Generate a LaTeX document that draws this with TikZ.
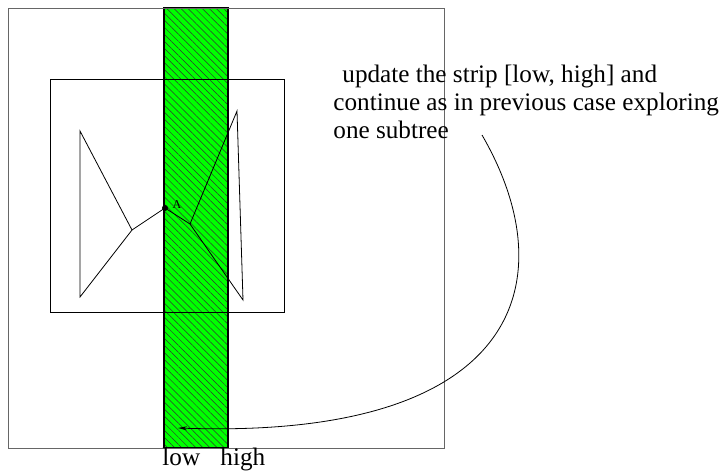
\documentclass[tikz,border=0pt]{standalone}
\usepackage{fontspec}
\setmainfont{Liberation Serif}
\usetikzlibrary{patterns.meta,arrows.meta}

\begin{document}
\begin{tikzpicture}[x=1pt,y=-1pt,line width=0.8pt,
  txt/.style={inner sep=0pt,anchor=base west,font=\fontsize{25.2}{28}\selectfont}]
  \useasboundingbox (0,0) rectangle (719,471);
  % strip [low, high]
  \fill[green] (164,8) rectangle (228,448);
  \fill[pattern={Lines[angle=-45,distance=5pt,line width=0.5pt]},pattern color=black!80]
    (164,8) rectangle (228,448);
  \draw[line width=1.2pt] (164,8) rectangle (228,448);
  % outer and inner boxes
  \draw[black!60,line width=1pt] (8,8) rectangle (444,448);
  \draw (50,79) rectangle (284,312);
  % the tree
  \coordinate (l1) at (80,131);
  \coordinate (l2) at (132,230);
  \coordinate (l3) at (80,297);
  \coordinate (A) at (165,208);
  \coordinate (r1) at (190,224);
  \coordinate (r2) at (237,111);
  \coordinate (r3) at (243,300);
  \draw (l1) -- (l2) -- (l3) -- cycle;
  \draw (l2) -- (A) -- (r1);
  \draw (r1) -- (r2) -- (r3) -- cycle;
  \fill (A) circle (3pt);
  \node[font=\fontsize{12}{12}\selectfont,inner sep=0pt] (lblA) at (177,205) {A};
  % labels
  \node[txt] (t1) at (342,82) {update the strip [low, high] and};
  \node[txt] (t2) at (333,110) {continue as in previous case exploring};
  \node[txt] (t3) at (333,138) {one subtree};
  \node[txt] (low) at (162,465) {low};
  \node[txt] (high) at (220,465) {high};
  \coordinate (from) at (482,135);
  \coordinate (tip) at (178,428);
  \draw[-{Stealth[length=9pt,width=4pt]}] (from) .. controls (566,280) and (522,440) .. (tip);
\end{tikzpicture}
\end{document}
